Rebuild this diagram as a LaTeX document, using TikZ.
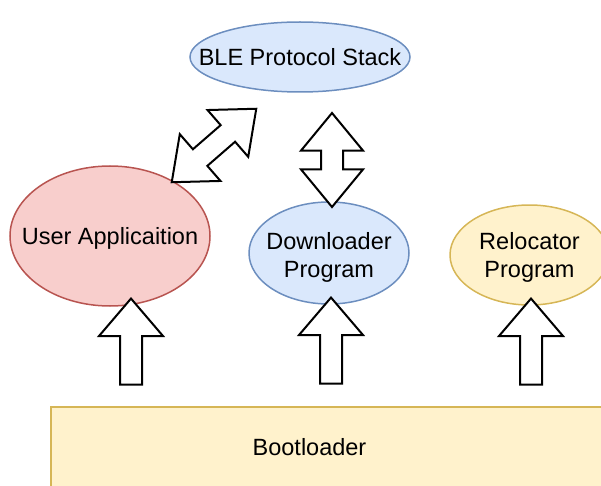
\documentclass[tikz,border=0pt]{standalone}
\usepackage{fontspec}
\setmainfont{Liberation Sans}
\usetikzlibrary{shapes.geometric,shapes.arrows}
\definecolor{bleblue}{HTML}{DAE8FC}
\definecolor{bleborder}{HTML}{6C8EBF}
\definecolor{apppink}{HTML}{F8CECC}
\definecolor{appborder}{HTML}{B85450}
\definecolor{bootyellow}{HTML}{FFF2CC}
\definecolor{bootborder}{HTML}{D6B656}
\begin{document}
\begin{tikzpicture}[x=1pt,y=-1pt,
  font=\fontsize{23.5}{28}\selectfont,
  blob/.style={ellipse,inner sep=0pt,line width=1.5pt},
  uparrow/.style={single arrow,draw=black,fill=white,line width=2pt,
    minimum height=86pt,inner sep=10pt,single arrow head extend=21pt,
    single arrow tip angle=81,shape border rotate=90},
  bothways/.style={double arrow,draw=black,fill=white,line width=2pt,
    minimum height=94pt,inner sep=10pt,double arrow head extend=20pt,
    double arrow tip angle=79}]
\useasboundingbox (0,0) rectangle (601,486);
\clip (0,0) rectangle (601,486);

% Bootloader
\node[draw=bootborder,fill=bootyellow,line width=1.5pt,inner sep=0pt,
  minimum width=600pt,minimum height=100pt,anchor=north west] (boot) at (50,406) {};
\node (bootlabel) at (309.5,447) {Bootloader};

% Programs
\node[blob,draw=bleborder,fill=bleblue,minimum width=220pt,minimum height=70pt,
  label={center:BLE Protocol Stack}] (ble) at (300,57) {};
\node[blob,draw=appborder,fill=apppink,minimum width=200pt,minimum height=140pt,
  label={[yshift=-2pt]center:User Applicaition}] (user) at (110,236) {};
\node[blob,draw=bleborder,fill=bleblue,minimum width=160pt,minimum height=102pt,
  label={[align=center,yshift=-4pt]center:Downloader\\Program}] (loader) at (329,253) {};
\node[blob,draw=bootborder,fill=bootyellow,minimum width=159pt,minimum height=100pt,
  label={[align=center,yshift=-2pt]center:Relocator\\Program}] (reloc) at (529.5,255) {};

% Arrows
\node[uparrow] (userup) at (131,348) {};
\node[uparrow] (loaderup) at (331,347) {};
\node[uparrow] (relocup) at (531,348) {};
\node[bothways,shape border rotate=90] (bleloader) at (332,160) {};
\node[bothways,minimum height=112pt,rotate=41] (bleuser) at (214,145.5) {};
\end{tikzpicture}
\end{document}
